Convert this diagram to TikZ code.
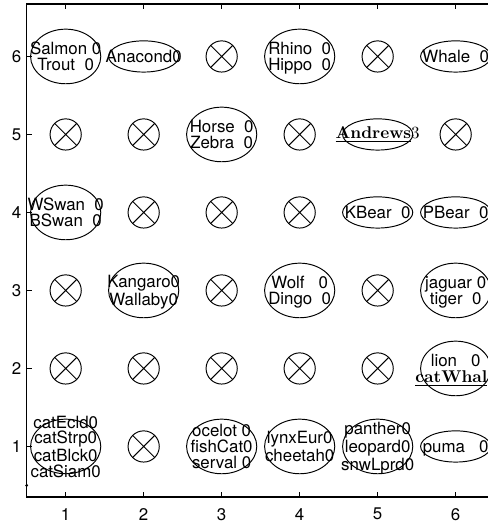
\documentclass[tikz,border=0pt]{standalone}
\usepackage{fontspec}
\newfontfamily\helv{TeX Gyre Heros}

\begin{document}
\begin{tikzpicture}[
    x=1.56cm, y=1.56cm,
    axisline/.style={line width=0.75pt},
    ticklbl/.style={font=\helv\fontsize{9.6}{9.6}\selectfont, inner sep=0pt},
    memberlbl/.style={font=\helv\fontsize{9.6}{8.9}\selectfont, align=center,
        inner sep=0pt, text depth=0pt},
    texlbl/.style={font=\fontsize{9.7}{8.9}\selectfont, inner sep=0pt},
    clusterline/.style={line width=0.55pt},
]

% --- Page frame (axes run 0.5..6.5 in x, right side is cut off) ---
\useasboundingbox (0.158,0.006) rectangle (6.414,6.724);
\clip (0.158,0.006) rectangle (6.414,6.724);

% --- Axes box, inward ticks, tick labels ---
\def\xa{0.5}
\def\xb{6.5}
\def\ya{0.353}
\def\yb{6.673}
\def\tk{0.064}
\draw[axisline] (\xa,\ya) rectangle (\xb,\yb);
\foreach \i in {1,...,6} {
    \draw[axisline] (\i,\ya) -- ++(0,\tk);
    \draw[axisline] (\i,\yb) -- ++(0,-\tk);
    \draw[axisline] (\xa,\i) -- ++(\tk,0);
    \node[ticklbl, anchor=north] (xl\i) at (\i,0.212) {\i};
    \node[ticklbl, anchor=east] (yl\i) at (0.436,\i) {\i};
}
\fill (\xa,0.5) circle (0.02);

% --- Empty cells: circle with a cross ---
\def\rc{0.2}
\foreach \x/\y in {3/6,5/6,1/5,2/5,4/5,6/5,2/4,3/4,4/4,1/3,3/3,5/3,
                   1/2,2/2,3/2,4/2,5/2,2/1} {
    \draw[clusterline] (\x,\y) circle (\rc);
    \draw[clusterline] (\x,\y) +(45:\rc) -- +(225:\rc)
        +(135:\rc) -- +(-45:\rc);
}

% --- Occupied cells: ellipse and member list ---
\def\rx{0.45}
\foreach \x/\y/\ry/\txt in {
    1/6/0.35/{Salmon 0\\Trout\ \ 0},
    2/6/0.2/{Anacond0},
    4/6/0.35/{Rhino\ \ 0\\Hippo\ \ 0},
    6/6/0.2/{Whale\ \ 0},
    3/5/0.35/{Horse\ \ 0\\Zebra\ \ 0},
    1/4/0.35/{WSwan\ \ 0\\BSwan\ \ 0},
    5/4/0.2/{KBear\ \ 0},
    6/4/0.2/{PBear\ \ 0},
    2/3/0.35/{Kangaro0\\Wallaby0},
    4/3/0.35/{Wolf\ \ \ 0\\Dingo\ \ 0},
    6/3/0.35/{jaguar 0\\tiger\ \ 0},
    1/1/0.35/{catEcld0\\catStrp0\\catBlck0\\catSiam0},
    3/1/0.35/{ocelot 0\\fishCat0\\serval 0},
    4/1/0.35/{lynxEur0\\cheetah0},
    5/1/0.35/{panther0\\leopard0\\snwLprd0},
    6/1/0.2/{puma\ \ \ 0}%
} {
    \draw[clusterline] (\x,\y) ellipse [x radius=\rx, y radius=\ry];
    \node[memberlbl] (m\x\y) at (\x,\y) {\txt};
}

% marked members (set in the serif font)
\draw[clusterline] (5,5) ellipse [x radius=\rx, y radius=0.2];
\node[texlbl] (m55) at (5,5) {\underline{\textbf{Andrews}}3};
\draw[clusterline] (6,2) ellipse [x radius=\rx, y radius=0.35];
\node[memberlbl] (m62) at (6,2)
    {lion\ \ \ 0\\{\rmfamily\fontsize{9.7}{8.9}\selectfont\underline{\textbf{catWhal}}\phantom{0}}};

\end{tikzpicture}
\end{document}
